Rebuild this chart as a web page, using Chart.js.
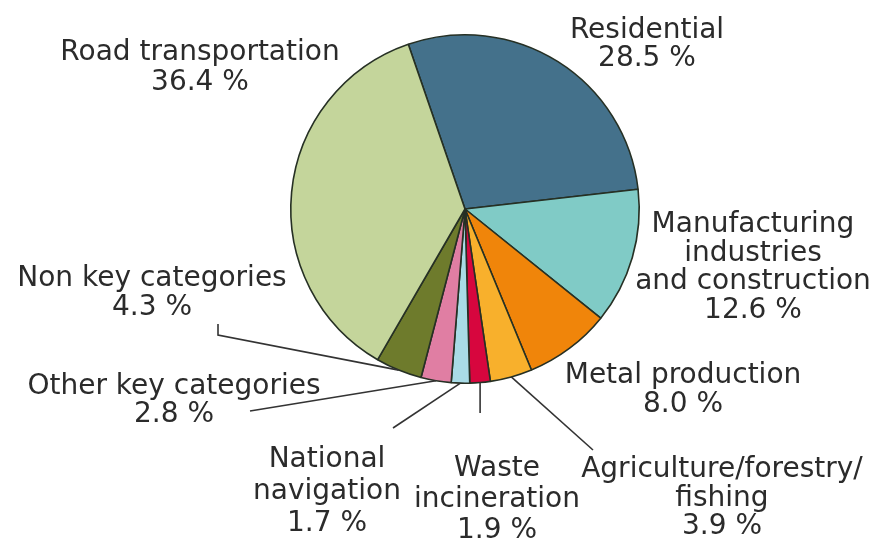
<!DOCTYPE html>
<html>
<head>
<meta charset="utf-8">
<script src="https://cdn.jsdelivr.net/npm/chart.js@4.4.1/dist/chart.umd.min.js"></script>
<style>
  html, body { margin: 0; padding: 0; background: #fff; }
  #pie { display: block; }
</style>
</head>
<body>
<canvas id="pie" width="877" height="546"></canvas>
<script>
// ===== DATA =====
const categories = [
  "Residential",
  "Manufacturing industries and construction",
  "Metal production",
  "Agriculture/forestry/fishing",
  "Waste incineration",
  "National navigation",
  "Other key categories",
  "Non key categories",
  "Road transportation",
];
const shares = [28.5, 12.6, 8.0, 3.9, 1.9, 1.7, 2.8, 4.3, 36.4];
const labelText = [
  ["Residential"],
  ["Manufacturing", "industries", "and construction"],
  ["Metal production"],
  ["Agriculture/forestry/", "fishing"],
  ["Waste", "incineration"],
  ["National", "navigation"],
  ["Other key categories"],
  ["Non key categories"],
  ["Road transportation"],
];
const sliceColors = [
  "#44718b", "#80cbc6", "#f0850a", "#f8b02c", "#d7063e",
  "#a9dbe6", "#e07ea3", "#6e7b2c", "#c4d59b",
];

// label placement: centre x, first baseline y, line height, leader points (label side)
const labelLayout = [
  { x: 647, y: 38, lh: 28 },
  { x: 753, y: 232, lh: 28.5 },
  { x: 683, y: 383, lh: 29 },
  { x: 722, y: 477, lh: 28.5, leader: [[593, 450]] },
  { x: 497, y: 476, lh: 31, leader: [[0, 413]], vertical: true },
  { x: 327, y: 467, lh: 32, leader: [[393, 428]] },
  { x: 174, y: 394, lh: 28, leader: [[250, 411]] },
  { x: 152, y: 286, lh: 29, leader: [[218, 324], [218, 335]] },
  { x: 200, y: 60, lh: 30 },
];

const pieLabels = {
  id: "pieLabels",
  afterDraw(chart) {
    const { ctx } = chart;
    const meta = chart.getDatasetMeta(0);

    ctx.save();
    meta.data.forEach((arc, i) => {
      const p = arc.getProps(["x", "y", "startAngle", "endAngle", "outerRadius"], true);
      const lay = labelLayout[i];

      if (lay.leader) {
        const mid = (p.startAngle + p.endAngle) / 2;
        const ex = p.x + Math.cos(mid) * p.outerRadius;
        const ey = p.y + Math.sin(mid) * p.outerRadius;
        const pts = lay.leader.map((pt) => (lay.vertical ? [ex, pt[1]] : pt));
        ctx.strokeStyle = "#333";
        ctx.lineWidth = 1.6;
        ctx.beginPath();
        ctx.moveTo(pts[0][0], pts[0][1]);
        pts.slice(1).forEach((pt) => ctx.lineTo(pt[0], pt[1]));
        ctx.lineTo(ex, ey);
        ctx.stroke();
      }

      const lines = labelText[i].concat([shares[i].toFixed(1) + " %"]);
      ctx.fillStyle = "#2b2b2b";
      ctx.font = "28px 'DejaVu Sans'";
      ctx.textAlign = "center";
      ctx.textBaseline = "alphabetic";
      lines.forEach((t, k) => ctx.fillText(t, lay.x, lay.y + k * lay.lh));
    });
    ctx.restore();
  },
};

new Chart(document.getElementById("pie"), {
  type: "pie",
  data: {
    labels: categories,
    datasets: [
      {
        data: shares,
        backgroundColor: sliceColors,
        borderColor: "#263024",
        borderWidth: 1.6,
      },
    ],
  },
  options: {
    responsive: false,
    animation: false,
    devicePixelRatio: 1,
    rotation: -19,
    layout: {
      padding: { left: 290, right: 237, top: 34, bottom: 162 },
    },
    plugins: {
      legend: { display: false },
      tooltip: { enabled: false },
    },
  },
  plugins: [pieLabels],
});
</script>
</body>
</html>
